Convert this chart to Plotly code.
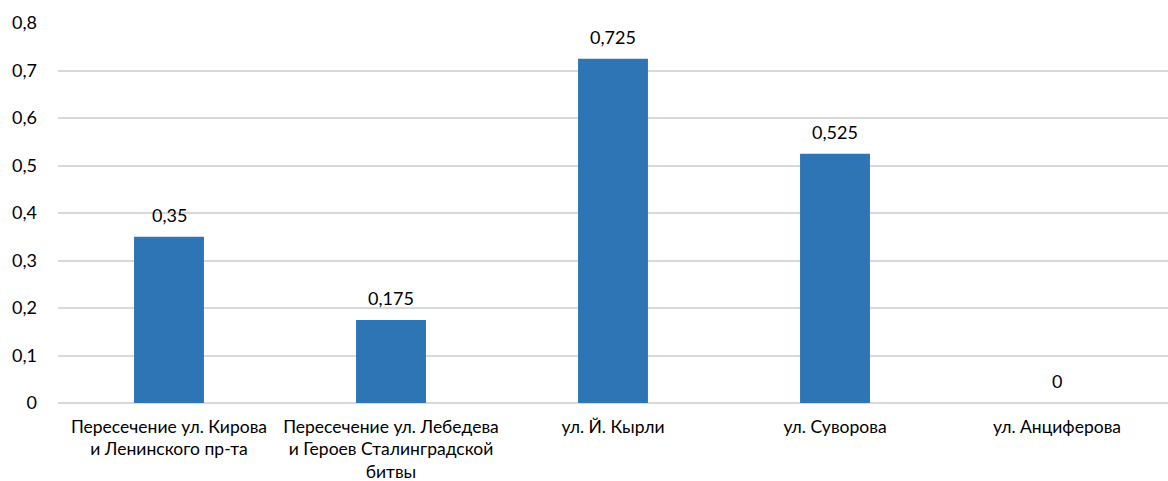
import plotly.graph_objects as go

categories = [
    "Пересечение ул. Кирова<br>и Ленинского пр-та",
    "Пересечение ул. Лебедева<br>и Героев Сталинградской<br>битвы",
    "ул. Й. Кырли",
    "ул. Суворова",
    "ул. Анциферова",
]
values = [0.35, 0.175, 0.725, 0.525, 0]
value_labels = ["0,35", "0,175", "0,725", "0,525", "0"]
y_ticks = [0, 0.1, 0.2, 0.3, 0.4, 0.5, 0.6, 0.7, 0.8]
y_tick_labels = ["0", "0,1", "0,2", "0,3", "0,4", "0,5", "0,6", "0,7", "0,8"]

FONT = "Lato"

fig = go.Figure(
    go.Bar(
        x=categories,
        y=values,
        marker=dict(color="#2E75B6", line=dict(width=0)),
        hoverinfo="x+y",
    )
)

for c, v, t in zip(categories, values, value_labels):
    fig.add_annotation(
        x=c, y=v, text=t, showarrow=False,
        yanchor="bottom", yshift=9,
        font=dict(family=FONT, size=18, color="#000000"),
    )

fig.update_layout(
    width=1168,
    height=481,
    margin=dict(l=58, r=0, t=23, b=78),
    paper_bgcolor="white",
    plot_bgcolor="white",
    bargap=0.685,
    separators=", ",
    showlegend=False,
    font=dict(family=FONT, size=17, color="#000000"),
    xaxis=dict(
        showgrid=False,
        showline=False,
        ticks="",
        ticklabelstandoff=11,
        tickfont=dict(family=FONT, size=17.5, color="#000000"),
    ),
    yaxis=dict(
        range=[0, 0.8],
        tickvals=y_ticks,
        ticktext=y_tick_labels,
        showgrid=True,
        gridcolor="#D9D9D9",
        gridwidth=1.5,
        zeroline=True,
        zerolinecolor="#D9D9D9",
        zerolinewidth=1.5,
        showline=False,
        ticks="",
        ticklabelstandoff=20,
        tickfont=dict(family=FONT, size=18, color="#000000"),
    ),
)

fig.write_html("out.html")
